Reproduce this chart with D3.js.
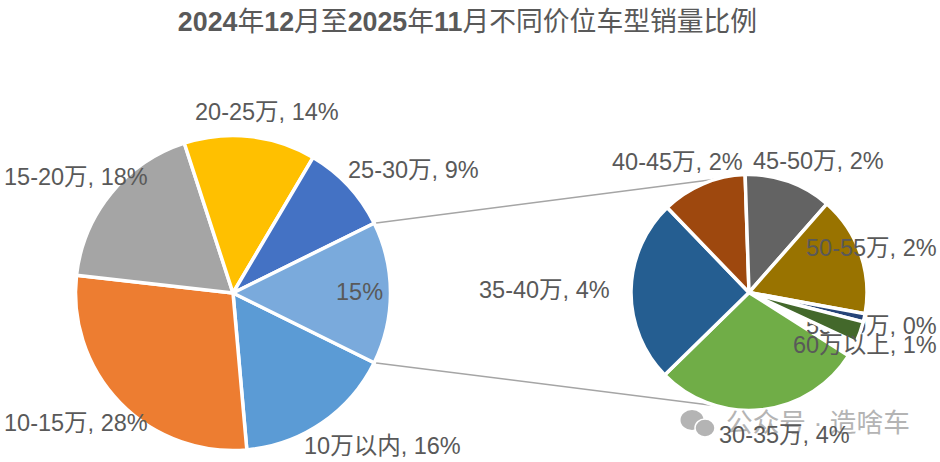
<!DOCTYPE html>
<html>
<head>
<meta charset="utf-8">
<script src="https://cdn.jsdelivr.net/npm/d3@7"></script>
<style>
    html, body { margin: 0; padding: 0; background: #fff; }
    svg { display: block; }
    text { font-family: "Liberation Sans", "Noto Sans CJK SC", sans-serif; }
</style>
</head>
<body>
<div id="chart"></div>
<script>
// values, labels keep the rounded numbers
const mainCategories = ["10万以内", "10-15万", "15-20万", "20-25万", "25-30万", "其他"];
const mainValues = [16.3, 28.2, 18.2, 13.5, 9.2, 14.6];
const mainLabels = ["10万以内, 16%", "10-15万, 28%", "15-20万, 18%", "20-25万, 14%", "25-30万, 9%", "15%"];
const mainColors = ["#5b9bd5", "#ed7d31", "#a5a5a5", "#ffc000", "#4472c4", "#7aaadc"];

// the original leaves an empty white wedge before 30-35万, first entry stands for it
const subCategories = ["", "30-35万", "35-40万", "40-45万", "45-50万", "50-55万", "55-60万", "60万以上"];
const subValues = [0.31, 4.3, 3.77, 1.75, 1.8, 2.46, 0.17, 0.44];
const subLabels = ["", "30-35万, 4%", "35-40万, 4%", "40-45万, 2%", "45-50万, 2%", "50-55万, 2%", "55-60万, 0%", "60万以上, 1%"];
const subColors = ["#ffffff", "#70ad47", "#255e91", "#9e480e", "#636363", "#997300", "#264478", "#43682b"];

const titleText = "2024年12月至2025年11月不同价位车型销量比例";

const width = 940;
const height = 462;
const textColor = "#595959";
const labelSize = 23.5;

const mainPie = { cx: 233, cy: 293, r: 157.5 };
const subPie = { cx: 749, cy: 292.5, r: 118 };

// label left edge / middle y, same order as the label arrays
const mainLabelPos = [[304, 446], [4, 423], [4, 177], [195, 112], [348, 170], [336, 292]];
const subLabelPos = [null, [719, 435], [479, 290], [612, 162], [753, 161], [806, 248], [806, 326], [793, 345]];
const hiddenLabel = 6;

const rad = Math.PI / 180;

const svg = d3.select("#chart")
    .append("svg")
    .attr("width", width)
    .attr("height", height)
    .attr("viewBox", `0 0 ${width} ${height}`);

// digits in the title are bold, the chinese is not
svg.append("text")
    .attr("x", 467.5)
    .attr("y", 22)
    .attr("dy", "0.35em")
    .attr("text-anchor", "middle")
    .attr("font-size", 26.8)
    .attr("fill", textColor)
    .selectAll("tspan")
    .data(titleText.match(/\d+|\D+/g))
    .join("tspan")
    .attr("font-weight", d => /\d/.test(d) ? "bold" : "normal")
    .text(d => d);

// the "others" slice sits centred on the right side of the main pie
const otherShare = mainValues[mainValues.length - 1] / d3.sum(mainValues);
const mainStart = (90 + otherShare * 180) * rad;
const subStart = 115 * rad;

function point(pie, angle) {
    return [pie.cx + pie.r * Math.sin(angle), pie.cy - pie.r * Math.cos(angle)];
}

// connector lines go under both pies
const connectors = [
    [point(mainPie, (90 - otherShare * 180) * rad), point(subPie, -16.5 * rad)],
    [point(mainPie, mainStart), point(subPie, 196.5 * rad)]
];
svg.append("g")
    .selectAll("line")
    .data(connectors)
    .join("line")
    .attr("x1", d => d[0][0])
    .attr("y1", d => d[0][1])
    .attr("x2", d => d[1][0])
    .attr("y2", d => d[1][1])
    .attr("stroke", "#a5a5a5")
    .attr("stroke-width", 1.5);

function drawPie(pieBox, values, colors, startAngle) {
    const pie = d3.pie()
        .sort(null)
        .startAngle(startAngle)
        .endAngle(startAngle + 2 * Math.PI);
    const arc = d3.arc().innerRadius(0).outerRadius(pieBox.r);

    const g = svg.append("g")
        .attr("transform", `translate(${pieBox.cx},${pieBox.cy})`);
    g.selectAll("path")
        .data(pie(values))
        .join("path")
        .attr("d", arc)
        .attr("fill", (d, i) => colors[i])
        .attr("stroke", "#fff")
        .attr("stroke-width", 3.5)
        .attr("stroke-linejoin", "round");
    return g;
}

drawPie(mainPie, mainValues, mainColors, mainStart);
const subGroup = drawPie(subPie, subValues, subColors, subStart);

// 55-60 label sits on the green slice but under the thin dark ones, as in the original
subGroup.insert("text", "path:nth-of-type(3)")
    .attr("x", subLabelPos[hiddenLabel][0] - subPie.cx)
    .attr("y", subLabelPos[hiddenLabel][1] - subPie.cy)
    .attr("dy", "0.35em")
    .attr("font-size", labelSize)
    .attr("fill", textColor)
    .text(subLabels[hiddenLabel]);

// watermark
const mark = svg.append("g").attr("fill", "#b4b4b4");
mark.append("ellipse").attr("cx", 692).attr("cy", 420).attr("rx", 11.5).attr("ry", 10);
mark.append("ellipse").attr("cx", 705).attr("cy", 428).attr("rx", 10).attr("ry", 9).attr("stroke", "#fff").attr("stroke-width", 1.5);
mark.append("text")
    .attr("x", 726)
    .attr("y", 423)
    .attr("dy", "0.35em")
    .attr("font-size", 26.7)
    .text("公众号 · 造啥车");

function drawLabels(labels, positions, skip) {
    svg.append("g")
        .attr("font-size", labelSize)
        .attr("fill", textColor)
        .selectAll("text")
        .data(labels.map((t, i) => ({ t, i })).filter(d => d.t && d.i !== skip))
        .join("text")
        .attr("x", d => positions[d.i][0])
        .attr("y", d => positions[d.i][1])
        .attr("dy", "0.35em")
        .text(d => d.t);
}

drawLabels(mainLabels, mainLabelPos, -1);
drawLabels(subLabels, subLabelPos, hiddenLabel);
</script>
</body>
</html>
